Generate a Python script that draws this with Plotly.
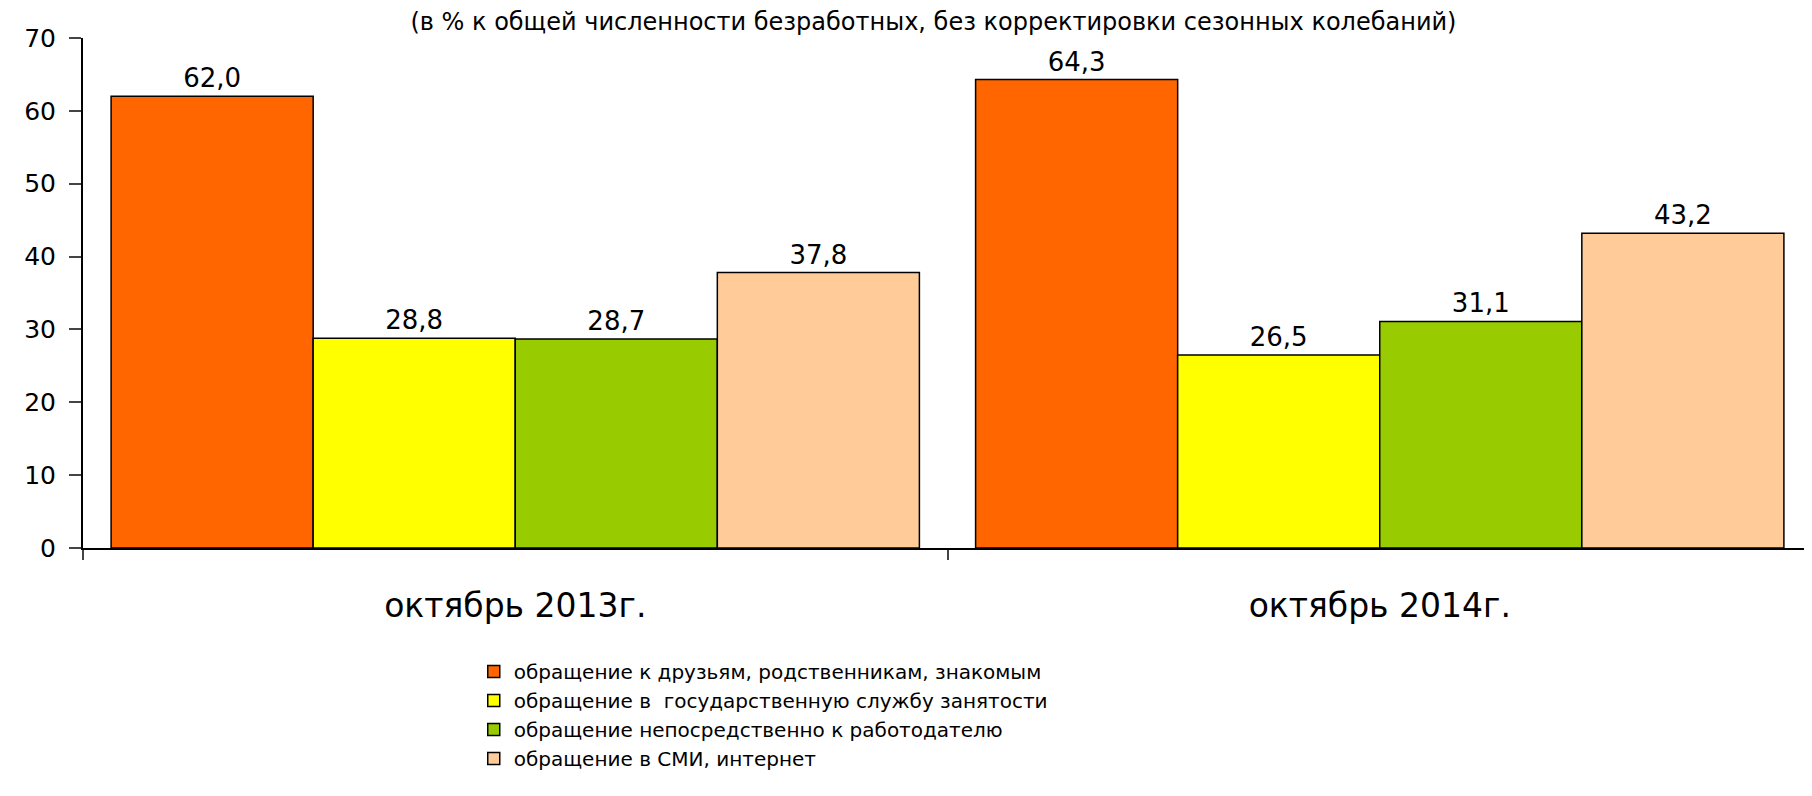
import plotly.graph_objects as go

categories = ["октябрь 2013г.", "октябрь 2014г."]
series_names = [
    "обращение к друзьям, родственникам, знакомым",
    "обращение в  государственную службу занятости",
    "обращение непосредственно к работодателю",
    "обращение в СМИ, интернет",
]
friends = [62.0, 64.3]
employment_service = [28.8, 26.5]
employer = [28.7, 31.1]
media_internet = [37.8, 43.2]
series_values = [friends, employment_service, employer, media_internet]
colors = ["#FF6600", "#FFFF00", "#99CC00", "#FFCC99"]
y_ticks = [0, 10, 20, 30, 40, 50, 60, 70]
subtitle = "(в % к общей численности безработных, без корректировки сезонных колебаний)"

FONT = "DejaVu Sans"

fig = go.Figure()
for name, vals, col in zip(series_names, series_values, colors):
    fig.add_trace(go.Bar(
        x=categories, y=vals, name=name,
        marker=dict(color=col, line=dict(color="black", width=1.5)),
        texttemplate="%{y:.1f}", textposition="outside",
        textfont=dict(family=FONT, size=26, color="black"),
        cliponaxis=False,
    ))

fig.update_layout(
    width=1804, height=788,
    margin=dict(l=75, r=0, t=30, b=248),
    separators=", ",
    barmode="group", bargap=0.065, bargroupgap=0,
    plot_bgcolor="white", paper_bgcolor="white",
    font=dict(family=FONT, color="black"),
    showlegend=True,
    title=dict(
        text=subtitle, xref="container", yref="container",
        x=0.513, y=0.993, xanchor="center", yanchor="top",
        font=dict(family=FONT, size=24, color="black"),
    ),
    legend=dict(
        xref="paper", yref="paper",
        x=0.226, y=-0.204, xanchor="left", yanchor="top",
        font=dict(family=FONT, size=20, color="black"),
        bgcolor="rgba(0,0,0,0)", traceorder="normal",
    ),
)
fig.update_yaxes(
    range=[0, 70], tickvals=y_ticks, ticks="outside", ticklen=12, tickwidth=2,
    showline=True, linewidth=2, linecolor="black", showgrid=False, zeroline=False,
    tickfont=dict(family=FONT, size=25, color="black"), ticklabelstandoff=8,
)
fig.update_xaxes(
    ticks="outside", tickson="boundaries", ticklen=10, tickwidth=2,
    showline=True, linewidth=2, linecolor="black", showgrid=False,
    tickfont=dict(family=FONT, size=33, color="black"), ticklabelstandoff=27,
)

fig.write_html("out.html")
